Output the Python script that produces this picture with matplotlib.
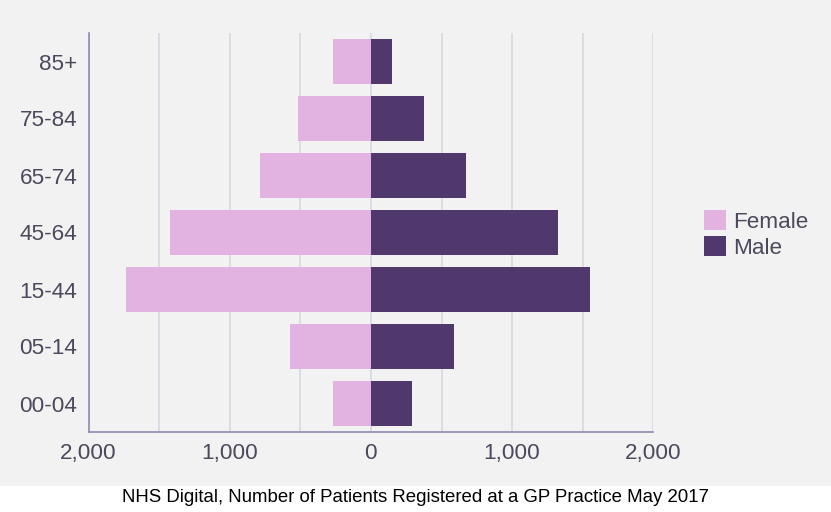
import matplotlib
matplotlib.use("Agg")
from matplotlib import pyplot as plt
from matplotlib.patches import Rectangle
from matplotlib.ticker import FuncFormatter, MultipleLocator

# age bands, bottom to top
ages = ['00-04', '05-14', '15-44', '45-64', '65-74', '75-84', '85+']
female = [270, 574, 1736, 1425, 787, 517, 270]
male = [291, 588, 1552, 1325, 673, 376, 149]

female_col = '#E2B3E1'
male_col = '#50386C'
txt_col = '#4A4A5C'

plt.rcParams['font.family'] = ['Liberation Sans', 'DejaVu Sans']

fig = plt.figure(figsize=(8.31, 5.12), dpi=100, facecolor='white')
# grey panel behind the chart, caption sits on white below it
fig.patches.append(Rectangle((0, 26/512), 1, 1 - 26/512, transform=fig.transFigure,
                             facecolor='#F2F2F2', edgecolor='none', zorder=-10))

ax = fig.add_axes([88.5/831, 1 - 432/512, (653.3 - 88.5)/831, (432 - 33)/512])
ax.set_facecolor('#F2F2F2')

pos = list(range(len(ages)))
ax.barh(pos, [-v for v in female], height=0.78, color=female_col, label='Female', zorder=2)
ax.barh(pos, male, height=0.78, color=male_col, label='Male', zorder=2)

ax.set_xlim(-2000, 2000)
ax.set_ylim(-0.5, len(ages) - 0.5)
ax.set_yticks(pos)
ax.set_yticklabels(ages)
ax.xaxis.set_major_locator(MultipleLocator(1000))
ax.xaxis.set_minor_locator(MultipleLocator(500))
ax.xaxis.set_major_formatter(FuncFormatter(lambda v, p: '{:,}'.format(abs(int(v)))))
ax.grid(axis='x', which='both', color='#D8D8E2', linewidth=1.2, zorder=1)
ax.tick_params(axis='both', which='both', length=0, labelsize=16.2, colors=txt_col)
ax.tick_params(axis='y', pad=8)
ax.tick_params(axis='x', pad=8)

for s in ['top', 'right']:
    ax.spines[s].set_visible(False)
for s in ['left', 'bottom']:
    ax.spines[s].set_color('#8C8CB0')
    ax.spines[s].set_linewidth(1.2)

leg = ax.legend(loc='center left', bbox_to_anchor=(1.073, 0.495), frameon=False,
                fontsize=16.2, handlelength=1.0, handleheight=1.0, handletextpad=0.3,
                labelspacing=0.15, borderaxespad=0)
for t in leg.get_texts():
    t.set_color(txt_col)

fig.text(0.5, 1 - 497/512, 'NHS Digital, Number of Patients Registered at a GP Practice May 2017',
         ha='center', va='center', fontsize=13.4, color='black')

fig.savefig('out.png', dpi=100, facecolor=fig.get_facecolor())
